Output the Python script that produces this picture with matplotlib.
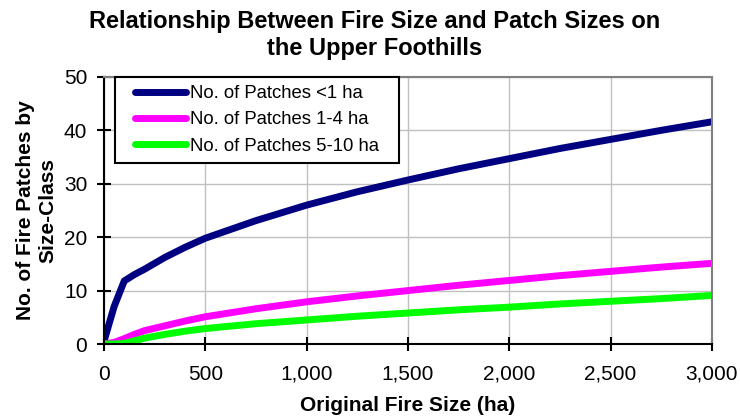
import matplotlib.pyplot as plt
from matplotlib.path import Path
from matplotlib.ticker import FuncFormatter

plt.rcParams['font.family'] = ['Liberation Sans', 'DejaVu Sans']

# fire size (ha) and number of patches in each size class
fire_size = [0, 50, 100, 150, 200, 300, 400, 500, 750, 1000, 1250, 1500,
             1750, 2000, 2250, 2500, 2750, 3000]
patches_lt1 = [0.5, 7.0, 11.8, 13.0, 14.0, 16.2, 18.1, 19.8, 23.1, 26.0,
               28.5, 30.7, 32.8, 34.7, 36.6, 38.3, 40.0, 41.6]
patches_1_4 = [0.0, 0.3, 1.0, 1.8, 2.5, 3.4, 4.3, 5.1, 6.6, 7.9, 9.0,
               10.0, 11.0, 11.9, 12.8, 13.6, 14.4, 15.1]
patches_5_10 = [0.0, 0.0, 0.1, 0.6, 1.1, 1.8, 2.4, 2.9, 3.8, 4.5, 5.2,
                5.8, 6.4, 6.9, 7.5, 8.0, 8.5, 9.1]


def wide_box(x0, y0, width, height, mutation_size):
    # square frame with extra room left and right only
    dx = 0.6 * mutation_size
    x1, y1 = x0 + width + dx, y0 + height
    x0 -= dx
    return Path([(x0, y0), (x1, y0), (x1, y1), (x0, y1), (x0, y0)],
                closed=True)


fig = plt.figure(figsize=(7.4, 4.18), dpi=100)
ax = fig.add_axes([0.1405, 0.177, 0.8215, 0.639])

ax.plot(fire_size, patches_lt1, color='#000080', lw=5,
        solid_capstyle='round', label='No. of Patches <1 ha')
ax.plot(fire_size, patches_1_4, color='#ff00ff', lw=5,
        solid_capstyle='round', label='No. of Patches 1-4 ha')
ax.plot(fire_size, patches_5_10, color='#00ff00', lw=5,
        solid_capstyle='round', label='No. of Patches 5-10 ha')

ax.set_xlim(0, 3000)
ax.set_ylim(0, 50)
ax.set_xticks(range(0, 3001, 500))
ax.set_yticks(range(0, 51, 10))
ax.xaxis.set_major_formatter(FuncFormatter(lambda v, p: f'{int(v):,}'))
ax.grid(True, color='#c0c0c0', lw=1)
ax.set_axisbelow(True)

for side in ('left', 'bottom'):
    ax.spines[side].set_color('black')
    ax.spines[side].set_linewidth(1.5)
for side in ('top', 'right'):
    ax.spines[side].set_color('#808080')
    ax.spines[side].set_linewidth(1.5)
ax.tick_params(direction='inout', length=10, width=1.5, labelsize=15,
               colors='black')
ax.tick_params(axis='x', pad=10)
ax.tick_params(axis='y', pad=7)

ax.set_xlabel('Original Fire Size (ha)', fontsize=15, fontweight='bold',
              labelpad=9)
ax.set_ylabel('No. of Fire Patches by\nSize-Class', fontsize=15,
              fontweight='bold', labelpad=5)
ax.set_title('Relationship Between Fire Size and Patch Sizes on\nthe Upper Foothills',
             fontsize=17, fontweight='bold', x=0.445, pad=16)

leg = ax.legend(loc='upper left', bbox_to_anchor=(0.037, 1.0), fontsize=13.3,
                handlelength=2.75, handletextpad=0.25, labelspacing=0.5,
                borderpad=0.45, borderaxespad=0, fancybox=False,
                framealpha=1, edgecolor='black')
leg.get_frame().set_boxstyle(wide_box)
leg.get_frame().set_linewidth(1.5)

fig.savefig('out.png', dpi=100)
